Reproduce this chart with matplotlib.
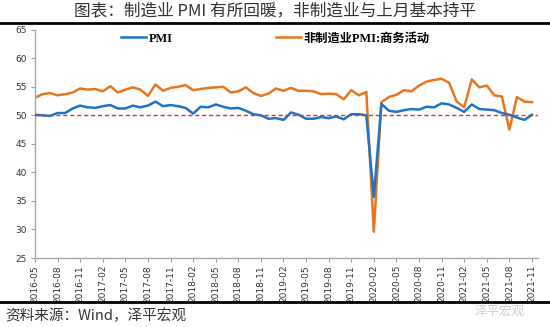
import matplotlib
matplotlib.use("Agg")
import matplotlib.pyplot as plt
from matplotlib.lines import Line2D
import pandas as pd

plt.rcParams['font.family'] = ['Noto Sans CJK SC', 'DejaVu Sans']

months = pd.period_range('2016-05', '2021-11', freq='M').strftime('%Y-%m').tolist()

pmi = [50.1, 50.0, 49.9, 50.4, 50.4, 51.2, 51.7, 51.4,
       51.3, 51.6, 51.8, 51.2, 51.2, 51.7, 51.4, 51.7, 52.4, 51.6, 51.8, 51.6,
       51.3, 50.3, 51.5, 51.4, 51.9, 51.5, 51.2, 51.3, 50.8, 50.2, 50.0, 49.4,
       49.5, 49.2, 50.5, 50.1, 49.4, 49.4, 49.7, 49.5, 49.8, 49.3, 50.2, 50.2,
       50.0, 35.7, 52.0, 50.8, 50.6, 50.9, 51.1, 51.0, 51.5, 51.4, 52.1, 51.9,
       51.3, 50.6, 51.9, 51.1, 51.0, 50.9, 50.4, 50.1, 49.6, 49.2, 50.1]

nonmfg = [53.1, 53.7, 53.9, 53.5, 53.7, 54.0, 54.7, 54.5,
          54.6, 54.2, 55.1, 54.0, 54.5, 54.9, 54.5, 53.4, 55.4, 54.3, 54.8, 55.0,
          55.3, 54.4, 54.6, 54.8, 54.9, 55.0, 54.0, 54.2, 54.9, 53.9, 53.4, 53.8,
          54.7, 54.3, 54.8, 54.3, 54.3, 54.2, 53.7, 53.8, 53.7, 52.8, 54.4, 53.5,
          54.1, 29.6, 52.3, 53.2, 53.6, 54.4, 54.2, 55.2, 55.9, 56.2, 56.4, 55.7,
          52.4, 51.4, 56.3, 54.9, 55.2, 53.5, 53.3, 47.5, 53.2, 52.4, 52.3]

threshold = 50
yticks = [25, 30, 35, 40, 45, 50, 55, 60, 65]
tick_labels = months[::3]

fig = plt.figure(figsize=(5.5, 3.27), dpi=100)
ax = fig.add_axes([35/550, 1-258/327, (538-35)/550, (258-29.7)/327])

x = list(range(len(months)))
ax.plot(x, pmi, color='#1F74C4', lw=1.8, label='PMI', solid_joinstyle='round', zorder=3)
ax.plot(x, nonmfg, color='#E8761E', lw=1.8, label='非制造业PMI:商务活动', solid_joinstyle='round', zorder=2)
ax.axhline(threshold, color='#E03030', lw=1.0, ls=(0, (3, 2)), zorder=4)

ax.set_xlim(0, 66.8)
ax.set_ylim(25, 65)
ax.set_yticks(yticks)
ax.set_xticks(x[::3])
ax.set_xticklabels(tick_labels, rotation=90, fontsize=6.5, family=['DejaVu Sans'])
ax.tick_params(axis='y', labelsize=6.5, length=3, color='#a0a0a0', labelcolor='#333333', pad=3)
ax.tick_params(axis='x', length=3, color='#a0a0a0', labelcolor='#333333', pad=2)
for t in ax.get_yticklabels():
    t.set_family(['DejaVu Sans'])
for s in ['top', 'right']:
    ax.spines[s].set_visible(False)
for s in ['left', 'bottom']:
    ax.spines[s].set_color('#a8a8a8')
    ax.spines[s].set_linewidth(1.0)

leg = ax.legend(loc='upper left', bbox_to_anchor=(0.15, 1.035), ncol=2, frameon=False,
                columnspacing=8.5, handlelength=2.0, handletextpad=0.2,
                prop={'family': ['Liberation Serif', 'Noto Sans CJK SC'], 'weight': 'bold', 'size': 8.8})

fig.text(0.5, 1-11/327, '图表：制造业 PMI 有所回暖，非制造业与上月基本持平', ha='center', va='center',
         fontsize=12, color='#333333')
fig.add_artist(Line2D([0, 1], [1-23/327, 1-23/327], color='black', lw=2.0, transform=fig.transFigure))
fig.add_artist(Line2D([0, 1], [1-302/327, 1-302/327], color='black', lw=2.0, transform=fig.transFigure))
fig.text(5/550, 1-316/327, '资料来源：Wind，泽平宏观', ha='left', va='center', fontsize=10.5,
         style='italic', color='#333333')
fig.text(500/550, 1-311/327, '泽平宏观', ha='center', va='center', fontsize=9, color='#c0c0c0', alpha=0.8)

fig.savefig('out.png', dpi=100)
